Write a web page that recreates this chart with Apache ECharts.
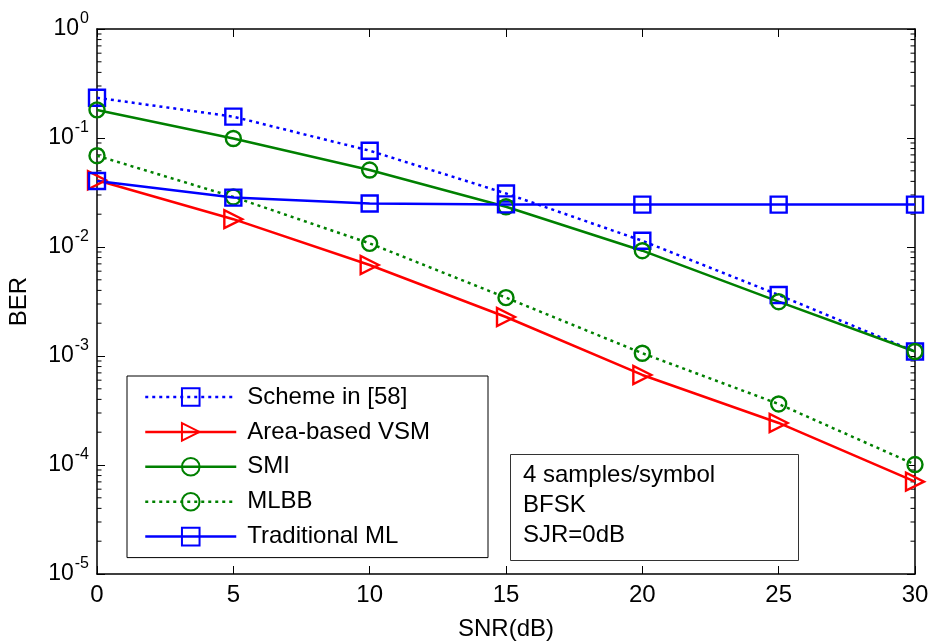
<!DOCTYPE html>
<html>
<head>
<meta charset="utf-8">
<script src="https://cdn.jsdelivr.net/npm/echarts@6/dist/echarts.min.js"></script>
<style>html,body{margin:0;padding:0;background:#fff}#c{width:931px;height:641px}</style>
</head>
<body>
<div id="c"></div>
<script>
const snr = [0, 5, 10, 15, 20, 25, 30];
const scheme58 = [0.234, 0.157, 0.0765, 0.031, 0.0114, 0.00363, 0.0011];
const areaVSM = [0.041, 0.0180, 0.00684, 0.00228, 0.00067, 0.000243, 0.0000703];
const smi = [0.181, 0.099, 0.0508, 0.0234, 0.00925, 0.00315, 0.0011];
const mlbb = [0.0688, 0.0288, 0.0108, 0.00343, 0.00106, 0.000363, 0.000101];
const tradML = [0.0403, 0.0284, 0.0251, 0.0246, 0.0245, 0.0245, 0.0245];
const seriesNames = ['Scheme in [58]', 'Area-based VSM', 'SMI', 'MLBB', 'Traditional ML'];
const xTicks = [0, 5, 10, 15, 20, 25, 30];
const noteLines = ['4 samples/symbol', 'BFSK', 'SJR=0dB'];

const FONT = 'Liberation Sans, Arial, sans-serif';
const pairs = a => snr.map((x, i) => [x, a[i]]);

const minorVals = [];
for (let d = -5; d <= -1; d++) for (let m = 2; m <= 9; m++) minorVals.push(m * Math.pow(10, d));

function mkLine(name, data, color, dotted, symbol, size, rotate) {
  return {
    name, type: 'line', data: pairs(data), xAxisIndex: 0, yAxisIndex: 0,
    symbol, symbolSize: size, symbolRotate: rotate || 0, showSymbol: true,
    lineStyle: { color, width: 2.5, type: dotted ? [3, 4] : 'solid' },
    itemStyle: { color: 'rgba(255,255,255,0)', borderColor: color, borderWidth: 2.4 },
    emphasis: { disabled: true }, animation: false, z: 3
  };
}

const chart = echarts.init(document.getElementById('c'), null, { renderer: 'canvas' });
chart.setOption({
  animation: false,
  backgroundColor: '#fff',
  grid: { left: 97, right: 16, top: 29, bottom: 67, show: false, containLabel: false, outerBoundsMode: 'none' },
  xAxis: [
    { type: 'value', min: 0, max: 30, interval: 5, position: 'bottom',
      name: 'SNR(dB)', nameLocation: 'middle', nameGap: 43,
      nameTextStyle: { fontSize: 24, fontFamily: FONT, color: '#000' },
      axisLine: { show: true, lineStyle: { color: '#000', width: 1.5 } },
      axisTick: { show: true, inside: true, length: 8, lineStyle: { color: '#000', width: 1 } },
      axisLabel: { fontSize: 24, fontFamily: FONT, color: '#000', margin: 9 },
      splitLine: { show: false } },
    { type: 'value', min: 0, max: 30, interval: 5, position: 'top',
      axisLine: { show: true, onZero: false, lineStyle: { color: '#000', width: 1.5 } },
      axisTick: { show: true, inside: true, length: 8, lineStyle: { color: '#000', width: 1 } },
      axisLabel: { show: false }, splitLine: { show: false } }
  ],
  yAxis: [
    { type: 'log', logBase: 10, min: 1e-5, max: 1, position: 'left',
      name: 'BER', nameLocation: 'middle', nameGap: 66,
      nameTextStyle: { fontSize: 24, fontFamily: FONT, color: '#000' },
      axisLine: { show: true, onZero: false, lineStyle: { color: '#000', width: 1.5 } },
      axisTick: { show: true, inside: true, length: 8, lineStyle: { color: '#000', width: 1 } },
      axisLabel: {
        margin: 8, color: '#000',
        formatter: v => '{a|10}{b|' + Math.round(Math.log10(v)) + '}',
        rich: {
          a: { fontSize: 23, fontFamily: FONT, color: '#000', lineHeight: 24 },
          b: { fontSize: 16, fontFamily: FONT, color: '#000', padding: [0, 0, 20, 1] }
        }
      },
      splitLine: { show: false } },
    { type: 'log', logBase: 10, min: 1e-5, max: 1, position: 'right',
      axisLine: { show: true, onZero: false, lineStyle: { color: '#000', width: 1.5 } },
      axisTick: { show: true, inside: true, length: 8, lineStyle: { color: '#000', width: 1 } },
      axisLabel: { show: false }, splitLine: { show: false } }
  ],
  legend: {
    orient: 'vertical', left: 127, top: 376,
    data: seriesNames,
    backgroundColor: '#fff', borderColor: '#000', borderWidth: 1,
    padding: [9, 58, 9, 17], itemWidth: 91, itemHeight: 22, itemGap: 10.9,
    lineStyle: { width: 2.5 },
    textStyle: { fontSize: 24, fontFamily: FONT, color: '#000', padding: [0, 0, 0, 6], lineHeight: 22 },
    selectedMode: false
  },
  graphic: [
    { type: 'rect', left: 510, top: 454, shape: { width: 288, height: 106 },
      style: { fill: '#fff', stroke: '#333', lineWidth: 1 }, z: 10 },
    ...noteLines.map((t, i) => ({
      type: 'text', x: 523, y: 475 + i * 30,
      style: { text: t, fontSize: 24, fontFamily: FONT, fill: '#000', verticalAlign: 'middle' }, z: 11
    }))
  ],
  series: [
    mkLine(seriesNames[0], scheme58, '#0000ff', true, 'rect', 16),
    mkLine(seriesNames[1], areaVSM, '#ff0000', false, 'triangle', 18, -90),
    mkLine(seriesNames[2], smi, '#008000', false, 'circle', 15),
    mkLine(seriesNames[3], mlbb, '#008000', true, 'circle', 15),
    mkLine(seriesNames[4], tradML, '#0000ff', false, 'rect', 16),
    {
      type: 'custom', silent: true, clip: false, xAxisIndex: 0, yAxisIndex: 0,
      data: minorVals.map(v => [0, v]),
      renderItem: (params, api) => {
        const v = api.value(1);
        const l = api.coord([0, v]);
        const r = api.coord([30, v]);
        return { type: 'group', children: [
          { type: 'line', shape: { x1: l[0], y1: l[1], x2: l[0] + 4.5, y2: l[1] }, style: { stroke: '#000', lineWidth: 1 } },
          { type: 'line', shape: { x1: r[0], y1: r[1], x2: r[0] - 4.5, y2: r[1] }, style: { stroke: '#000', lineWidth: 1 } }
        ] };
      },
      z: 1
    }
  ]
});
</script>
</body>
</html>
